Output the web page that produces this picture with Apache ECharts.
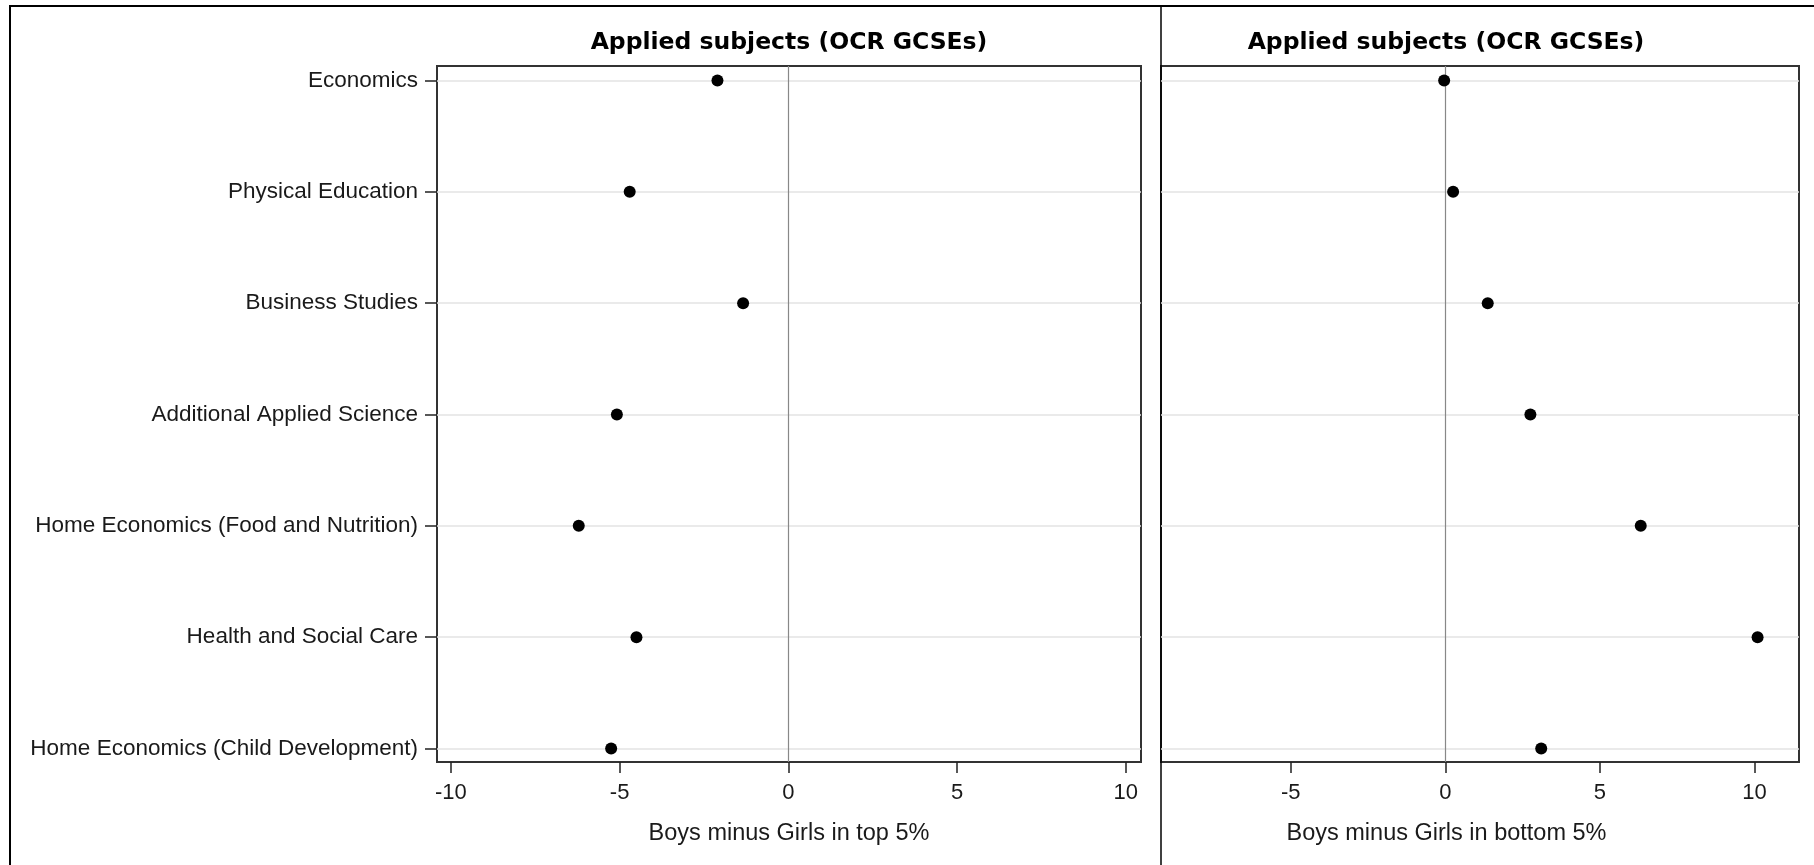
<!DOCTYPE html>
<html>
<head>
<meta charset="utf-8">
<script src="https://cdn.jsdelivr.net/npm/echarts@6/dist/echarts.min.js"></script>
<style>
html,body{margin:0;padding:0;background:#fff;}
#c{width:1814px;height:865px;}
</style>
</head>
<body>
<div id="c"></div>
<script>
const categories = [
  'Economics',
  'Physical Education',
  'Business Studies',
  'Additional Applied Science',
  'Home Economics (Food and Nutrition)',
  'Health and Social Care',
  'Home Economics (Child Development)'
];
const topValues = [-2.10, -4.70, -1.34, -5.08, -6.21, -4.50, -5.25];
const bottomValues = [-0.04, 0.25, 1.37, 2.75, 6.32, 10.10, 3.10];
const leftTicks = [-10, -5, 0, 5, 10];
const rightTicks = [-5, 0, 5, 10];
const panelTitles = ['Applied subjects (OCR GCSEs)', 'Applied subjects (OCR GCSEs)'];
const axisNames = ['Boys minus Girls in top 5%', 'Boys minus Girls in bottom 5%'];
const referenceValue = 0;

const catIdx = categories.map((_, i) => i);
const FONT = '"Liberation Sans", Arial, sans-serif';
const TXT = '#1a1a1a';

function yAxis(gridIndex, showLabels) {
  return {
    type: 'value', gridIndex, inverse: true, min: -0.13, max: 6.121,
    axisLine: {show: false, onZero: false},
    axisTick: {show: showLabels, length: 12, customValues: catIdx, lineStyle: {color: '#222', width: 1.5}},
    axisLabel: {show: showLabels, customValues: catIdx, margin: 19,
      formatter: v => categories[Math.round(v)] || '',
      fontFamily: FONT, fontSize: 22.5, color: TXT, padding: [5, 0, 0, 0]},
    splitLine: {show: true, lineStyle: {color: '#e3e3e3', width: 1.5}}
  };
}
function xAxis(gridIndex, min, max, ticks, name, namePad) {
  return {
    type: 'value', gridIndex, min, max,
    axisLine: {show: false, onZero: false},
    axisTick: {show: true, length: 11, customValues: ticks, lineStyle: {color: '#222', width: 1.5}},
    axisLabel: {customValues: ticks, margin: 20, fontFamily: FONT, fontSize: 22, color: TXT},
    splitLine: {show: false},
    name, nameLocation: 'middle', nameGap: 60,
    nameTextStyle: {fontFamily: FONT, fontSize: 23.5, color: TXT, padding: namePad}
  };
}
function scatter(values, idx) {
  return {
    type: 'scatter', xAxisIndex: idx, yAxisIndex: idx,
    data: values.map((v, i) => [v, i]),
    symbol: 'circle', symbolSize: 12,
    itemStyle: {color: '#000', opacity: 1},
    z: 5,
    markLine: {
      silent: true, symbol: 'none', label: {show: false},
      lineStyle: {color: '#888', width: 1.2, type: 'solid'},
      data: [{xAxis: referenceValue}]
    }
  };
}

const chart = echarts.init(document.getElementById('c'), null, {renderer: 'canvas'});
chart.setOption({
  animation: false,
  backgroundColor: '#fff',
  title: [
    {text: panelTitles[0], left: 789, top: 31, textAlign: 'center', padding: 0,
     textStyle: {fontFamily: '"DejaVu Sans", sans-serif', fontWeight: 'bold', fontSize: 23.5, color: '#000'}},
    {text: panelTitles[1], left: 1446, top: 31, textAlign: 'center', padding: 0,
     textStyle: {fontFamily: '"DejaVu Sans", sans-serif', fontWeight: 'bold', fontSize: 23.5, color: '#000'}}
  ],
  grid: [
    {left: 437, top: 66, width: 704, height: 696, show: true, borderColor: '#333', borderWidth: 2, backgroundColor: 'transparent'},
    {left: 1161, top: 66, width: 638, height: 696, show: true, borderColor: '#333', borderWidth: 2, backgroundColor: 'transparent'}
  ],
  xAxis: [
    xAxis(0, -10.41, 10.45, leftTicks, axisNames[0], [0, 0, 0, 0]),
    xAxis(1, -9.2, 11.44, rightTicks, axisNames[1], [0, 67, 0, 0])
  ],
  yAxis: [yAxis(0, true), yAxis(1, false)],
  series: [scatter(topValues, 0), scatter(bottomValues, 1)],
  graphic: [
    {type: 'line', shape: {x1: 9, y1: 6, x2: 1814, y2: 6}, style: {stroke: '#000', lineWidth: 2}, silent: true},
    {type: 'line', shape: {x1: 10, y1: 5, x2: 10, y2: 865}, style: {stroke: '#000', lineWidth: 2}, silent: true},
    {type: 'line', shape: {x1: 1161, y1: 5, x2: 1161, y2: 865}, style: {stroke: '#000', lineWidth: 1.5}, silent: true}
  ]
});
</script>
</body>
</html>
